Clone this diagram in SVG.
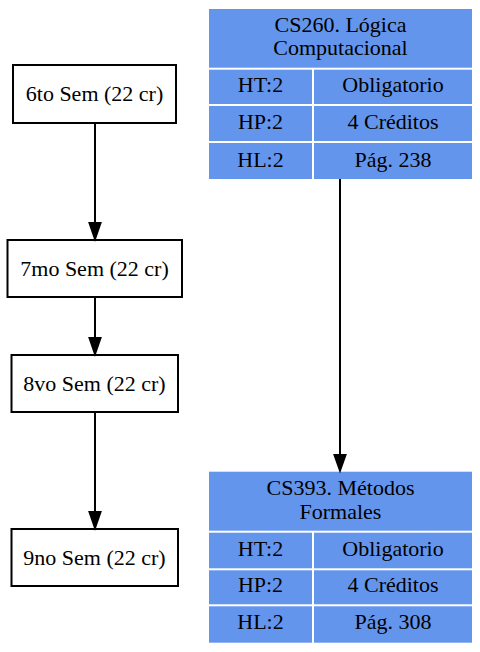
<svg xmlns="http://www.w3.org/2000/svg" width="480" height="652" viewBox="0 0 480 652">
<style>
text{font-family:"Liberation Serif","Times New Roman",serif;font-size:22px;fill:#000;text-anchor:middle}
.sem{fill:#fff;stroke:#000;stroke-width:2}
.cell{fill:#6495ED}
.edge{stroke:#000;stroke-width:2;fill:none}
.head{fill:#000;stroke:#000;stroke-width:2}
</style>
<rect width="480" height="652" fill="#fff"/>
<g id="sem6"><rect class="sem" x="13" y="65" width="163" height="58"/><text x="94.5" y="101">6to Sem (22 cr)</text></g>
<g id="sem7"><rect class="sem" x="7.5" y="240" width="174.5" height="57"/><text x="94.5" y="276">7mo Sem (22 cr)</text></g>
<g id="sem8"><rect class="sem" x="11.5" y="355" width="166.5" height="57"/><text x="94.5" y="391">8vo Sem (22 cr)</text></g>
<g id="sem9"><rect class="sem" x="11.5" y="529" width="166.5" height="57"/><text x="94.5" y="565">9no Sem (22 cr)</text></g>
<g id="CS260">
<rect class="cell" x="209" y="9" width="263" height="58.7"/>
<rect class="cell" x="209" y="69.7" width="103" height="34.3"/>
<rect class="cell" x="314" y="69.7" width="158" height="34.3"/>
<rect class="cell" x="209" y="106" width="103" height="35"/>
<rect class="cell" x="314" y="106" width="158" height="35"/>
<rect class="cell" x="209" y="143" width="103" height="36"/>
<rect class="cell" x="314" y="143" width="158" height="36"/>
<text x="340.5" y="31.5">CS260. Lógica</text>
<text x="340.5" y="55">Computacional</text>
<text x="260.5" y="92.3">HT:2</text><text x="393" y="92.3">Obligatorio</text>
<text x="260.5" y="129.3">HP:2</text><text x="393" y="129.3">4 Créditos</text>
<text x="260.5" y="166.5">HL:2</text><text x="393" y="166.5">Pág. 238</text>
</g>
<g id="CS393">
<rect class="cell" x="209" y="471.7" width="263" height="59"/>
<rect class="cell" x="209" y="532.7" width="103" height="35.6"/>
<rect class="cell" x="314" y="532.7" width="158" height="35.6"/>
<rect class="cell" x="209" y="570.3" width="103" height="34"/>
<rect class="cell" x="314" y="570.3" width="158" height="34"/>
<rect class="cell" x="209" y="606.3" width="103" height="36.4"/>
<rect class="cell" x="314" y="606.3" width="158" height="36.4"/>
<text x="340.5" y="495">CS393. Métodos</text>
<text x="340.5" y="519">Formales</text>
<text x="260.5" y="555.7">HT:2</text><text x="393" y="555.7">Obligatorio</text>
<text x="260.5" y="592.3">HP:2</text><text x="393" y="592.3">4 Créditos</text>
<text x="260.5" y="629">HL:2</text><text x="393" y="629">Pág. 308</text>
</g>
<g id="edges">
<line class="edge" x1="95" y1="123" x2="95" y2="223"/>
<polygon class="head" points="89.5,223 100.5,223 95,239"/>
<line class="edge" x1="95" y1="297" x2="95" y2="338"/>
<polygon class="head" points="89.5,338 100.5,338 95,354"/>
<line class="edge" x1="95" y1="412" x2="95" y2="512"/>
<polygon class="head" points="89.5,512 100.5,512 95,528"/>
<line class="edge" x1="340" y1="179" x2="340" y2="455"/>
<polygon class="head" points="334.5,455 345.5,455 340,470.5"/>
</g>
</svg>
